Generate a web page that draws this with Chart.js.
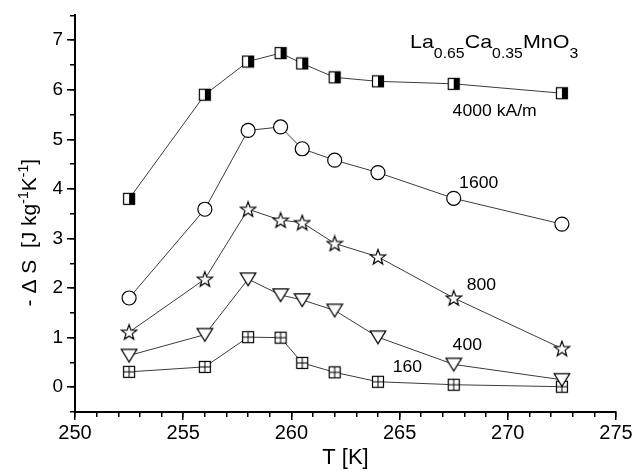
<!DOCTYPE html>
<html>
<head>
<meta charset="utf-8">
<script src="https://cdn.jsdelivr.net/npm/chart.js@4.4.0/dist/chart.umd.min.js"></script>
<style>
	body { margin: 0; background: #fff; }
	#wrap { width: 635px; height: 471px; }
</style>
</head>
<body>
<div id="wrap"><canvas id="chart"></canvas></div>
<script>
// temperatures (K) and -dS (J/kg/K) for each field
const temps = [252.5, 256, 258, 259.5, 260.5, 262, 264, 267.5, 272.5];
const ds4000 = [3.80, 5.90, 6.57, 6.74, 6.53, 6.25, 6.17, 6.12, 5.93];
const ds1600 = [1.80, 3.59, 5.18, 5.25, 4.81, 4.58, 4.33, 3.81, 3.29];
const ds800 = [1.11, 2.18, 3.59, 3.37, 3.32, 2.90, 2.63, 1.80, 0.78];
const ds400 = [0.64, 1.06, 2.18, 1.86, 1.76, 1.55, 1.01, 0.46, 0.15];
const ds160 = [0.31, 0.41, 1.01, 1.00, 0.49, 0.30, 0.11, 0.05, 0.01];

const xTicks = [250, 255, 260, 265, 270, 275];
const yTicks = [0, 1, 2, 3, 4, 5, 6, 7];

const fieldLabels = [
	{ text: "4000 kA/m", x: 267.45, y: 5.47 },
	{ text: "1600", x: 267.75, y: 4.02 },
	{ text: "800", x: 268.1, y: 1.96 },
	{ text: "400", x: 267.45, y: 0.76 },
	{ text: "160", x: 264.68, y: 0.31 },
];
const formula = { x: 265.48, y: 6.84, parts: [["La", 0], ["0.65", 1], ["Ca", 0], ["0.35", 1], ["MnO", 0], ["3", 1]] };
const yTitleParts = [["- \u0394 S  [J kg", 0], ["-1", 1], ["K", 0], ["-1", 1], ["]", 0]];

const FONT = "'Liberation Sans', Arial, sans-serif";
const LINE = "#3c3c3c";

const makeMarker = (size, draw) => {
	const c = document.createElement("canvas");
	c.width = size;
	c.height = size;
	const ctx = c.getContext("2d");
	ctx.lineWidth = 1.2;
	ctx.strokeStyle = "#000";
	ctx.fillStyle = "#fff";
	draw(ctx, size);
	return c;
};

const halfSquare = makeMarker(14, (ctx) => {
	ctx.fillRect(1.5, 1.5, 11, 11);
	ctx.fillStyle = "#000";
	ctx.fillRect(7, 1.5, 5.5, 11);
	ctx.strokeRect(1.5, 1.5, 11, 11);
});

const plusSquare = makeMarker(14, (ctx) => {
	ctx.fillRect(1.5, 1.5, 11, 11);
	ctx.strokeRect(1.5, 1.5, 11, 11);
	ctx.lineWidth = 1;
	ctx.beginPath();
	ctx.moveTo(7, 1.5); ctx.lineTo(7, 12.5);
	ctx.moveTo(1.5, 7); ctx.lineTo(12.5, 7);
	ctx.stroke();
});

const starMarker = makeMarker(18, (ctx) => {
	ctx.beginPath();
	for (let i = 0; i < 10; i++) {
		const r = i % 2 === 0 ? 8 : 3.3;
		const a = -Math.PI / 2 + (i * Math.PI) / 5;
		ctx.lineTo(9 + r * Math.cos(a), 9.6 + r * Math.sin(a));
	}
	ctx.closePath();
	ctx.fill();
	ctx.stroke();
});

const triDown = makeMarker(18, (ctx) => {
	ctx.beginPath();
	ctx.moveTo(1.2, 2.8);
	ctx.lineTo(16.8, 2.8);
	ctx.lineTo(9, 15.6);
	ctx.closePath();
	ctx.fill();
	ctx.stroke();
});

const series = (values, style, radius) => ({
	data: values.map((v, i) => ({ x: temps[i], y: v })),
	borderColor: LINE,
	borderWidth: 1,
	pointStyle: style,
	pointRadius: radius,
	pointBackgroundColor: "#fff",
	pointBorderColor: "#000",
	pointBorderWidth: 1.2,
	xAxisID: "x",
	yAxisID: "y",
});

const textPlugin = {
	id: "texts",
	afterDraw: (chart) => {
		const { ctx, scales } = chart;
		const sx = scales.x;
		const sy = scales.y;
		ctx.save();
		ctx.fillStyle = "#000";
		ctx.textBaseline = "alphabetic";
		ctx.textAlign = "left";

		fieldLabels.forEach((l) => {
			ctx.save();
			ctx.translate(sx.getPixelForValue(l.x), sy.getPixelForValue(l.y));
			ctx.scale(1.1, 1);
			ctx.font = `16px ${FONT}`;
			ctx.fillText(l.text, 0, 0);
			ctx.restore();
		});

		ctx.save();
		ctx.translate(sx.getPixelForValue(formula.x), sy.getPixelForValue(formula.y));
		ctx.scale(1.13, 1);
		let px = 0;
		formula.parts.forEach(([t, sub]) => {
			ctx.font = sub ? `14px ${FONT}` : `19px ${FONT}`;
			ctx.fillText(t, px, sub ? 10 : 0);
			px += ctx.measureText(t).width;
		});
		ctx.restore();

		// y axis title with superscripts, rotated
		let len = 0;
		yTitleParts.forEach(([t, sup]) => {
			ctx.font = sup ? `14px ${FONT}` : `21px ${FONT}`;
			len += ctx.measureText(t).width;
		});
		const midY = (chart.chartArea.top + chart.chartArea.bottom) / 2 + 19;
		ctx.translate(35.5, midY + len / 2);
		ctx.rotate(-Math.PI / 2);
		px = 0;
		yTitleParts.forEach(([t, sup]) => {
			ctx.font = sup ? `14px ${FONT}` : `21px ${FONT}`;
			ctx.fillText(t, px, sup ? -8 : 0);
			px += ctx.measureText(t).width;
		});
		ctx.restore();
	},
};

const axisBase = (min, max, position) => ({
	type: "linear",
	min,
	max,
	position,
	grid: { drawOnChartArea: false, color: "#000", lineWidth: 1.5 },
});

window.onload = () => {
	const canvas = document.getElementById("chart");
	new Chart(canvas, {
		type: "line",
		data: {
			datasets: [
				series(ds4000, halfSquare, 7),
				series(ds1600, "circle", 7),
				series(ds800, starMarker, 7),
				series(ds400, triDown, 7),
				series(ds160, plusSquare, 7),
			],
		},
		options: {
			responsive: true,
			maintainAspectRatio: false,
			animation: false,
			layout: { padding: { left: 0, right: 19, top: 13, bottom: 0 } },
			plugins: { legend: { display: false }, tooltip: { enabled: false } },
			scales: {
				x: {
					...axisBase(250, 275, "bottom"),
					weight: 1,
					afterBuildTicks: (s) => { s.ticks = xTicks.map((v) => ({ value: v })); },
					ticks: { font: { family: FONT, size: 20 }, color: "#000", padding: 1, maxRotation: 0, autoSkip: false },
					grid: { drawOnChartArea: false, color: "#000", lineWidth: 1.5, tickLength: 8 },
					border: { display: true, color: "#000", width: 2 },
					title: { display: true, text: "T [K]", color: "#000", font: { family: FONT, size: 22 }, padding: 0 },
					afterFit: (s) => { s.height = 59; },
				},
				xMinor: {
					...axisBase(250, 275, "bottom"),
					axis: "x",
					weight: 0,
					ticks: { display: false, stepSize: 1 },
					grid: { drawOnChartArea: false, color: "#000", lineWidth: 1.5, tickLength: 5 },
					border: { display: false },
					afterFit: (s) => { s.height = 0; },
				},
				y: {
					...axisBase(-0.5, 7.5, "left"),
					weight: 1,
					afterBuildTicks: (s) => { s.ticks = yTicks.map((v) => ({ value: v })); },
					ticks: { font: { family: FONT, size: 19 }, color: "#000", padding: 4 },
					grid: { drawOnChartArea: false, color: "#000", lineWidth: 1.5, tickLength: 8 },
					border: { display: true, color: "#000", width: 2 },
					afterFit: (s) => { s.width = 75; },
				},
				yMinor: {
					...axisBase(-0.5, 7.5, "left"),
					axis: "y",
					weight: 0,
					ticks: { display: false, stepSize: 0.5 },
					grid: { drawOnChartArea: false, color: "#000", lineWidth: 1.5, tickLength: 5 },
					border: { display: false },
					afterFit: (s) => { s.width = 0; },
				},
			},
		},
		plugins: [textPlugin],
	});
};
</script>
</body>
</html>
